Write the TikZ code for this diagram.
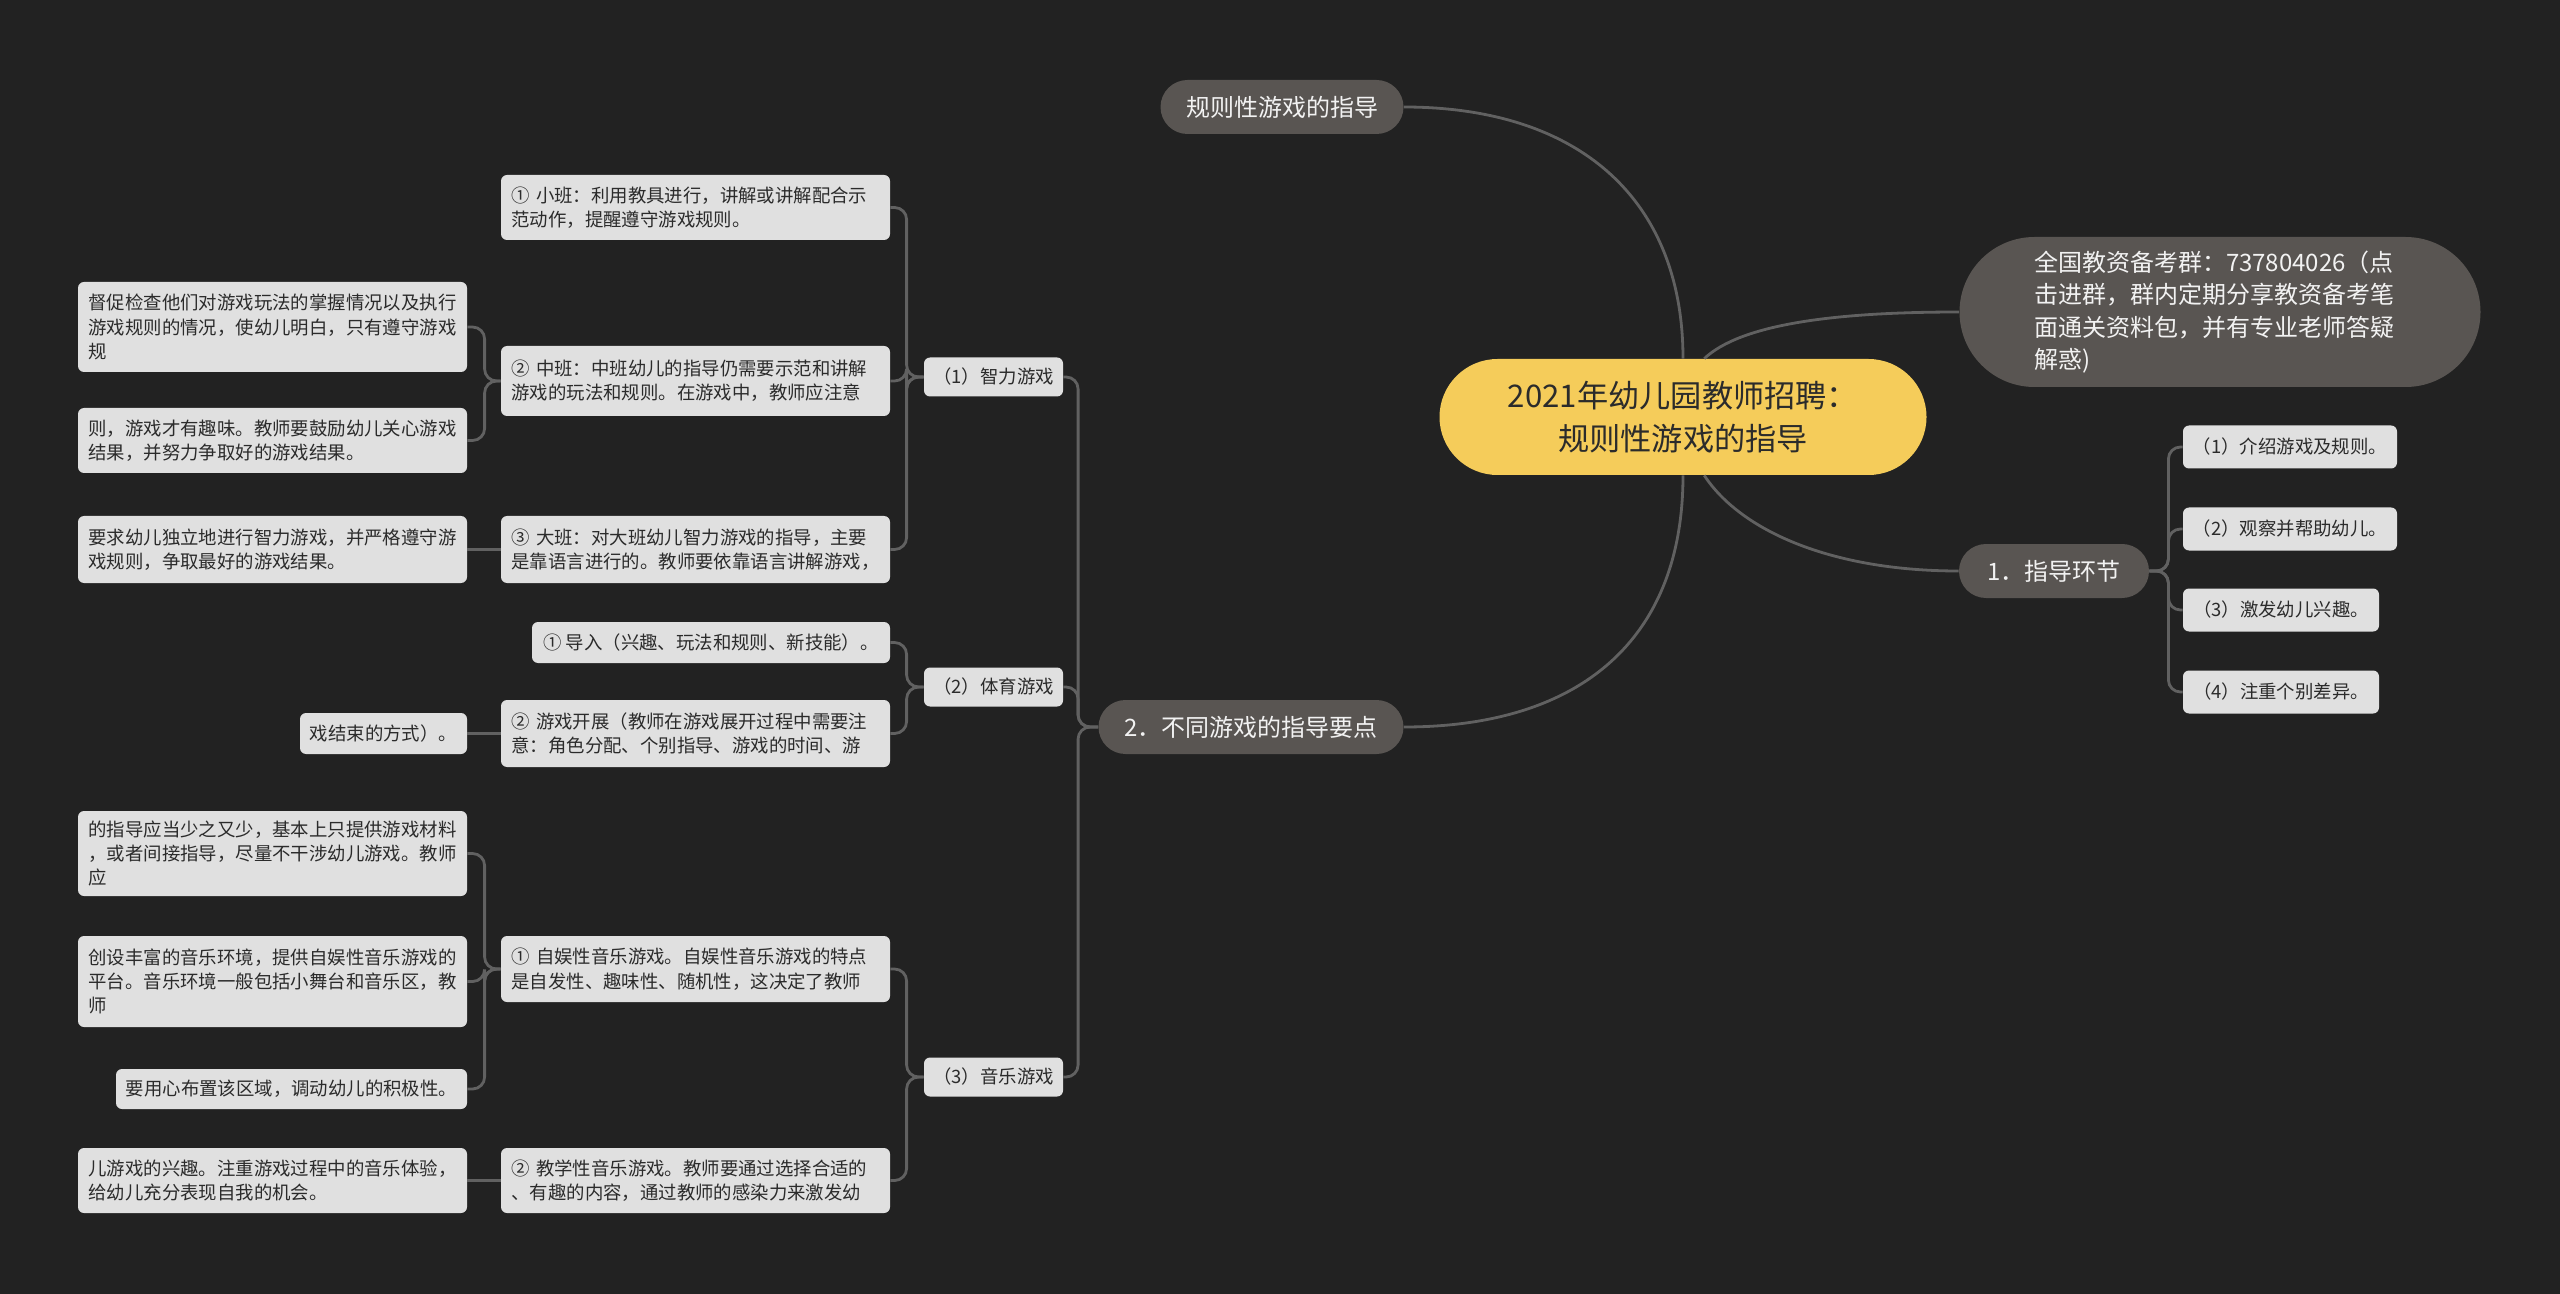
\documentclass[tikz,border=0pt]{standalone}
\usepackage{fontspec}
\setmainfont{Noto Sans CJK SC}
\definecolor{bgdark}{HTML}{222222}
\definecolor{pillgray}{HTML}{595552}
\definecolor{pilltext}{HTML}{F2F2F2}
\definecolor{boxgray}{HTML}{E0E0E0}
\definecolor{boxtext}{HTML}{2B2B2B}
\definecolor{rootyellow}{HTML}{F5CC5A}
\definecolor{linkgray}{HTML}{616161}
\begin{document}
\begin{tikzpicture}[x=0.5pt, y=-0.5pt,
    rootnode/.style={rectangle, fill=rootyellow, text=boxtext, font=\fontsize{15.6}{21.5}\selectfont,
      minimum width=243.5pt, minimum height=58pt, rounded corners=29pt, inner sep=0pt, align=center},
    pill/.style={rectangle, fill=pillgray, text=pilltext, font=\fontsize{12}{16.3}\selectfont,
      minimum height=27pt, rounded corners=13.5pt, inner sep=0pt},
    box/.style={rectangle, fill=boxgray, text=boxtext, font=\fontsize{9.2}{12.2}\selectfont,
      rounded corners=3pt, inner xsep=5.25pt, inner ysep=0pt, align=left, text width=184pt},
    tag/.style={rectangle, fill=boxgray, text=boxtext, font=\fontsize{9.2}{12.2}\selectfont,
      rounded corners=3pt, inner sep=0pt, minimum height=19.5pt},
    link/.style={draw=linkgray, line width=1.4pt, rounded corners=6pt},
    curve/.style={draw=linkgray, line width=1.4pt}]
  \fill[bgdark] (0,0) rectangle (2560,1294);

  \node[rootnode] (root) at (1683,417) {2021年幼儿园教师招聘：\\规则性游戏的指导};
  \node[pill, minimum width=121.5pt] (rule) at (1282,107) {规则性游戏的指导};
  \node[pill, minimum width=152.5pt] (diff) at (1251,727) {2．不同游戏的指导要点};
  \node[pill, minimum width=95pt] (guide) at (2054,571) {1．指导环节};
  \node[pill, minimum width=260.5pt, minimum height=75pt, rounded corners=37.5pt,
    text width=186pt, align=left] (qun) at (2220,312)
    {全国教资备考群：737804026（点\\击进群，群内定期分享教资备考笔\\面通关资料包，并有专业老师答疑\\解惑)};

  \node[tag, minimum width=107pt, minimum height=21.5pt] (jieshao) at (2290,447) {（1）介绍游戏及规则。};
  \node[tag, minimum width=107pt, minimum height=21.5pt] (guancha) at (2290,529) {（2）观察并帮助幼儿。};
  \node[tag, minimum width=98pt, minimum height=21.5pt] (jifa) at (2281,610) {（3）激发幼儿兴趣。};
  \node[tag, minimum width=98pt, minimum height=21.5pt] (zhuzhong) at (2281,692) {（4）注重个别差异。};

  \node[tag, minimum width=69.5pt] (zhili) at (993.5,377) {（1）智力游戏};
  \node[tag, minimum width=69.5pt] (tiyu) at (993.5,687) {（2）体育游戏};
  \node[tag, minimum width=69.5pt] (yinyue) at (993.5,1077) {（3）音乐游戏};

  \node[box, minimum height=32.5pt] (xiaoban) at (695.5,207.5) {① 小班：利用教具进行，讲解或讲解配合示\\范动作，提醒遵守游戏规则。};
  \node[box, minimum height=35pt] (zhongban) at (695.5,381) {② 中班：中班幼儿的指导仍需要示范和讲解\\游戏的玩法和规则。在游戏中，教师应注意};
  \node[box, minimum height=33.5pt] (daban) at (695.5,549.5) {③ 大班：对大班幼儿智力游戏的指导，主要\\是靠语言进行的。教师要依靠语言讲解游戏，};
  \node[tag, minimum width=179pt, minimum height=20.5pt] (daoru) at (711,642.5) {① 导入（兴趣、玩法和规则、新技能）。};
  \node[box, minimum height=33.5pt] (kaizhan) at (695.5,733.5) {② 游戏开展（教师在游戏展开过程中需要注\\意：角色分配、个别指导、游戏的时间、游};
  \node[box, minimum height=33pt] (ziyu) at (695.5,969) {① 自娱性音乐游戏。自娱性音乐游戏的特点\\是自发性、趣味性、随机性，这决定了教师};
  \node[box, minimum height=32.5pt] (jiaoxue) at (695.5,1180.5) {② 教学性音乐游戏。教师要通过选择合适的\\、有趣的内容，通过教师的感染力来激发幼};

  \node[box, minimum height=45pt] (duchu) at (272.5,327) {督促检查他们对游戏玩法的掌握情况以及执行\\游戏规则的情况，使幼儿明白，只有遵守游戏\\规};
  \node[box, minimum height=32.5pt] (ze) at (272.5,440.5) {则，游戏才有趣味。教师要鼓励幼儿关心游戏\\结果，并努力争取好的游戏结果。};
  \node[box, minimum height=33.5pt] (yaoqiu) at (272.5,549.5) {要求幼儿独立地进行智力游戏，并严格遵守游\\戏规则，争取最好的游戏结果。};
  \node[tag, minimum width=83.5pt, minimum height=20.5pt] (jieshu) at (383.5,733.5) {戏结束的方式）。};
  \node[box, minimum height=42.5pt] (zhidao) at (272.5,853.5) {的指导应当少之又少，基本上只提供游戏材料\\，或者间接指导，尽量不干涉幼儿游戏。教师\\应};
  \node[box, minimum height=45.5pt] (chuangshe) at (272.5,981.5) {创设丰富的音乐环境，提供自娱性音乐游戏的\\平台。音乐环境一般包括小舞台和音乐区，教\\师};
  \node[tag, minimum width=175.5pt, minimum height=20pt] (buzhi) at (291.5,1089) {要用心布置该区域，调动幼儿的积极性。};
  \node[box, minimum height=32.5pt] (ertong) at (272.5,1180.5) {儿游戏的兴趣。注重游戏过程中的音乐体验，\\给幼儿充分表现自我的机会。};

  \draw[curve] (root.north) .. controls (1683,200) and (1580,107) .. (rule.east);
  \draw[curve] (root.south) .. controls (1683,640) and (1580,727) .. (diff.east);
  \draw[curve] (root.70) .. controls (1740,325) and (1830,312) .. (qun.west);
  \draw[curve] (root.-70) .. controls (1740,530) and (1830,571) .. (guide.west);

  \foreach \n in {jieshao,guancha,jifa,zhuzhong}
    \draw[link] (guide.east) -- ++(19,0) |- (\n.west);
  \foreach \n in {zhili,tiyu,yinyue}
    \draw[link] (diff.west) -- ++(-20,0) |- (\n.east);
  \foreach \n in {xiaoban,zhongban,daban}
    \draw[link] (zhili.west) -- ++(-17,0) |- (\n.east);
  \foreach \n in {daoru,kaizhan}
    \draw[link] (tiyu.west) -- ++(-17,0) |- (\n.east);
  \foreach \n in {ziyu,jiaoxue}
    \draw[link] (yinyue.west) -- ++(-17,0) |- (\n.east);
  \foreach \n in {duchu,ze}
    \draw[link] (zhongban.west) -- ++(-16,0) |- (\n.east);
  \foreach \n in {zhidao,chuangshe,buzhi}
    \draw[link] (ziyu.west) -- ++(-16,0) |- (\n.east);
  \draw[link] (daban.west) -- (yaoqiu.east);
  \draw[link] (kaizhan.west) -- (jieshu.east);
  \draw[link] (jiaoxue.west) -- (ertong.east);
\end{tikzpicture}
\end{document}
